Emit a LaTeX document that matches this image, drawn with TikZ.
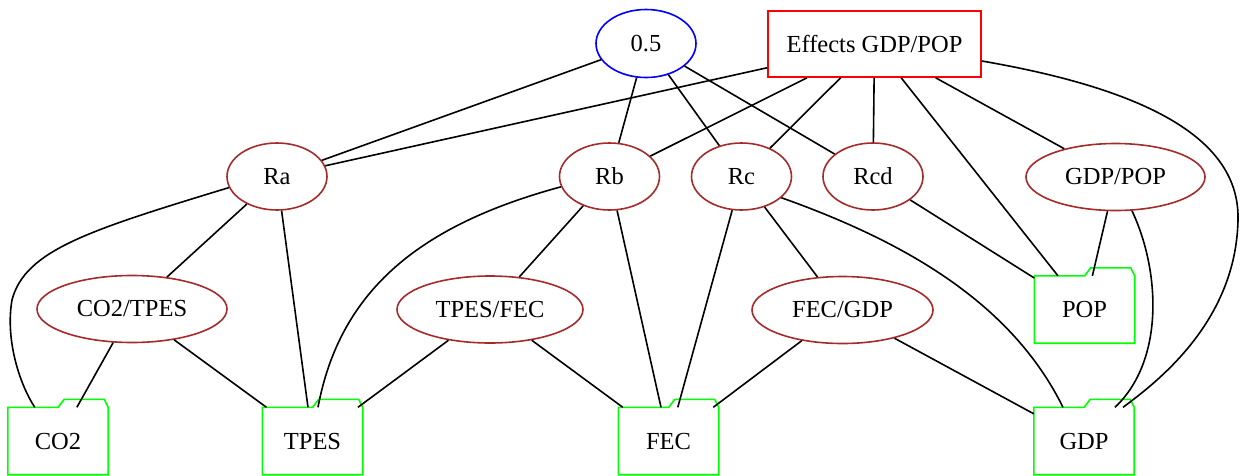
\documentclass[tikz,border=0pt]{standalone}
\usepackage{fontspec}
\setmainfont{Liberation Serif}
\usetikzlibrary{shapes.geometric}
\definecolor{gvbrown}{HTML}{A52A2A}
\definecolor{gvgreen}{HTML}{00FF00}
\begin{document}
\begin{tikzpicture}[x=1pt,y=-1pt,
  every node/.style={font=\fontsize{24.5}{29}\selectfont, inner sep=0pt},
  link/.style={line width=1.6pt, black},
  ratio/.style={ellipse, draw=gvbrown, line width=1.6pt, minimum height=67pt},
  factor/.style={ratio, minimum width=100pt},
  weight/.style={ellipse, draw=blue, line width=1.6pt, minimum width=100pt, minimum height=68pt},
  effect/.style={rectangle, draw=red, line width=1.6pt, minimum width=213pt, minimum height=66pt},
  folderbody/.style={rectangle, minimum width=100pt, minimum height=67pt},
  folderline/.style={draw=gvgreen, line width=1.6pt, line join=miter}
]
\useasboundingbox (0,0) rectangle (1240,475);

% top row
\node[weight] (half) at (646,43.5) {0.5};
\node[effect] (eff) at (874.5,44) {Effects GDP/POP};

% factor row
\node[factor] (Ra)  at (277,176.5) {Ra};
\node[factor] (Rb)  at (609.5,176.5) {Rb};
\node[factor] (Rc)  at (741.5,176.5) {Rc};
\node[factor] (Rcd) at (873,176.5) {Rcd};
\node[ratio, minimum width=179pt] (gdppop) at (1115.5,177) {GDP/POP};

% ratio row
\node[ratio, minimum width=190pt] (co2tpes) at (132,309) {CO2/TPES};
\node[ratio, minimum width=186pt] (tpesfec) at (490,309.5) {TPES/FEC};
\node[ratio, minimum width=181pt] (fecgdp)  at (842.5,310) {FEC/GDP};

% data folders
\node[folderbody] (POP)  at (1084.5,309.5) {POP};
\node[folderbody] (CO2)  at (58,441) {CO2};
\node[folderbody] (TPES) at (312.5,441) {TPES};
\node[folderbody] (FEC)  at (668.5,441) {FEC};
\node[folderbody] (GDP)  at (1084,441) {GDP};

\foreach \f in {CO2,TPES,FEC,GDP,POP}
  \draw[folderline] (\f.south west) -- (\f.north west)
    -- ([xshift=-50pt]\f.north east) -- ([xshift=-44pt,yshift=8pt]\f.north east)
    -- ([xshift=-4pt,yshift=8pt]\f.north east) -- (\f.north east)
    -- (\f.south east) -- cycle;

% straight links
\draw[link] (half) -- (Ra);
\draw[link] (half) -- (Rb);
\draw[link] (half) -- (Rc);
\draw[link] (half) -- (Rcd);
\draw[link] (eff) -- (Ra);
\draw[link] (eff) -- (Rb);
\draw[link] (eff) -- (Rc);
\draw[link] (eff) -- (Rcd);
\draw[link] (eff) -- (POP);
\draw[link] (eff) -- (gdppop);
\draw[link] (Ra) -- (co2tpes);
\draw[link] (Ra) -- (TPES);
\draw[link] (Rb) -- (tpesfec);
\draw[link] (Rb) -- (FEC);
\draw[link] (Rc) -- (FEC);
\draw[link] (Rc) -- (fecgdp);
\draw[link] (Rcd) -- (POP);
\draw[link] (gdppop) -- (POP);
\draw[link] (co2tpes) -- (CO2);
\draw[link] (co2tpes) -- (TPES);
\draw[link] (tpesfec) -- (TPES);
\draw[link] (tpesfec) -- (FEC);
\draw[link] (fecgdp) -- (FEC);
\draw[link] (fecgdp) -- (GDP);

% curved links
\draw[link] (Ra.193) .. controls (90,230) and (25,250) .. (12,300)
  .. controls (5,340) and (20,385) .. ([xshift=27pt]CO2.north west);
\draw[link] (Rb.192) .. controls (420,225) and (340,290) .. ([xshift=5.5pt]TPES.north);
\draw[link] (Rc.332) .. controls (900,240) and (1010,300) .. ([xshift=-21pt]GDP.north);
\draw[link] (gdppop.296) .. controls (1160,270) and (1165,360) .. ([xshift=31pt]GDP.north);
\draw[link] ([yshift=-17pt]eff.east) .. controls (1150,90) and (1240,140) .. (1238,220)
  .. controls (1236,320) and (1160,380) .. ([xshift=39pt]GDP.north);
\end{tikzpicture}
\end{document}
